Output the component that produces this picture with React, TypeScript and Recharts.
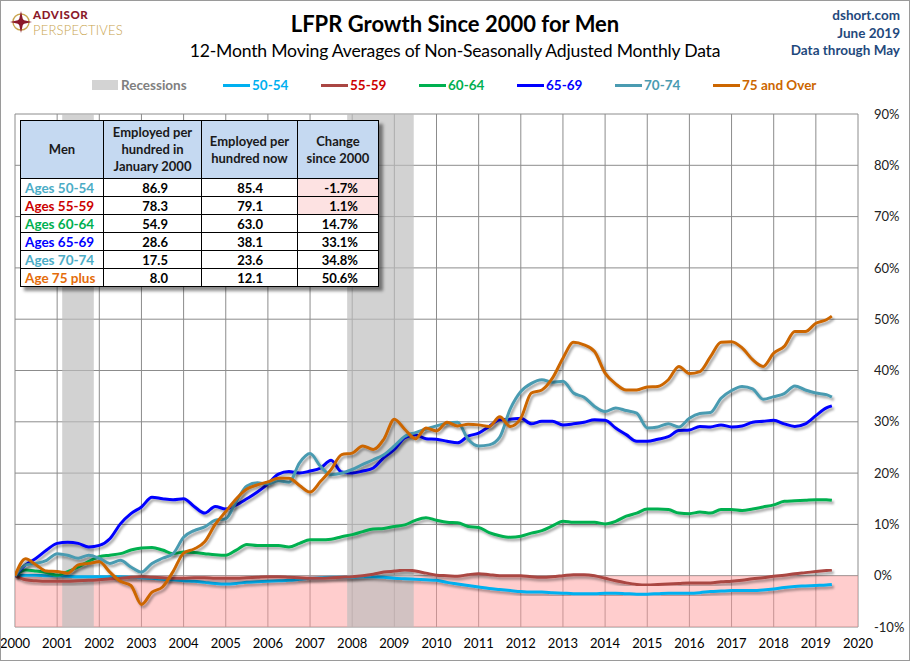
import React from 'react';
import { LineChart, Line, XAxis, YAxis, CartesianGrid, ReferenceArea } from 'recharts';

const quarters = [
  2000, 2000.25, 2000.5, 2000.75, 2001, 2001.25, 2001.5, 2001.75,
  2002, 2002.25, 2002.5, 2002.75, 2003, 2003.25, 2003.5, 2003.75,
  2004, 2004.25, 2004.5, 2004.75, 2005, 2005.25, 2005.5, 2005.75,
  2006, 2006.25, 2006.5, 2006.75, 2007, 2007.25, 2007.5, 2007.75,
  2008, 2008.25, 2008.5, 2008.75, 2009, 2009.25, 2009.5, 2009.75,
  2010, 2010.25, 2010.5, 2010.75, 2011, 2011.25, 2011.5, 2011.75,
  2012, 2012.25, 2012.5, 2012.75, 2013, 2013.25, 2013.5, 2013.75,
  2014, 2014.25, 2014.5, 2014.75, 2015, 2015.25, 2015.5, 2015.75,
  2016, 2016.25, 2016.5, 2016.75, 2017, 2017.25, 2017.5, 2017.75,
  2018, 2018.25, 2018.5, 2018.75, 2019, 2019.25, 2019.38,
];

const ages5054 = [
  0, 0.1, 0.1, 0.0, 0.0, -0.1, -0.2, -0.2,
  -0.2, -0.2, -0.2, -0.3, -0.4, -0.5, -0.7, -0.8,
  -1.0, -1.1, -1.3, -1.5, -1.6, -1.5, -1.3, -1.2,
  -1.1, -1.0, -0.9, -0.7, -0.5, -0.4, -0.3, -0.3,
  -0.3, -0.2, -0.2, -0.3, -0.5, -0.6, -0.7, -0.8,
  -0.9, -1.3, -1.6, -1.9, -2.2, -2.5, -2.7, -2.9,
  -3.1, -3.2, -3.2, -3.3, -3.4, -3.5, -3.5, -3.5,
  -3.4, -3.4, -3.5, -3.6, -3.6, -3.5, -3.4, -3.4,
  -3.4, -3.3, -3.1, -3.0, -2.9, -2.9, -2.9, -2.8,
  -2.6, -2.3, -2.1, -2.0, -1.9, -1.8, -1.7,
];

const ages5559 = [
  0, -0.8, -1.0, -1.1, -1.1, -1.1, -1.0, -0.9,
  -0.8, -0.6, -0.5, -0.3, -0.2, -0.3, -0.4, -0.5,
  -0.5, -0.4, -0.4, -0.5, -0.5, -0.5, -0.4, -0.3,
  -0.2, -0.2, -0.3, -0.4, -0.5, -0.5, -0.4, -0.3,
  -0.2, 0.0, 0.3, 0.7, 0.9, 1.1, 0.9, 0.5,
  0.1, 0.0, -0.1, 0.2, 0.4, 0.2, 0.0, 0.0,
  0.0, -0.2, -0.3, -0.2, 0.0, 0.2, 0.2, 0.0,
  -0.5, -1.0, -1.4, -1.7, -1.8, -1.7, -1.6, -1.5,
  -1.4, -1.4, -1.4, -1.2, -1.1, -0.9, -0.6, -0.4,
  -0.1, 0.1, 0.4, 0.6, 0.8, 1.0, 1.1,
];

const ages6064 = [
  0, 1.1, 0.9, 0.6, 0.1, 0.8, 1.7, 2.8,
  3.7, 4.0, 4.3, 5.0, 5.4, 5.5, 5.0, 4.3,
  4.6, 4.5, 4.3, 4.1, 4.0, 5.0, 6.1, 5.9,
  5.9, 5.9, 5.6, 6.3, 7.0, 7.0, 7.1, 7.6,
  8.0, 8.6, 9.1, 9.2, 9.6, 9.9, 10.8, 11.3,
  10.8, 10.4, 10.3, 9.6, 9.4, 8.4, 7.8, 7.5,
  7.7, 8.3, 8.8, 9.7, 10.6, 10.4, 10.4, 10.4,
  10.1, 10.6, 11.6, 12.2, 13.0, 13.0, 12.9, 12.2,
  12.1, 12.4, 12.2, 12.9, 12.9, 12.7, 13.0, 13.4,
  13.8, 14.5, 14.6, 14.7, 14.8, 14.8, 14.7,
];

const ages6569 = [
  0, 2.1, 3.4, 5.0, 6.3, 6.5, 6.3, 5.6,
  5.9, 7.2, 10.1, 12.1, 13.4, 15.3, 15.0, 14.8,
  15.0, 13.5, 12.2, 13.5, 13.0, 13.8, 15.0, 16.3,
  17.9, 19.8, 20.3, 20.0, 20.4, 21.0, 22.5, 20.2,
  20.0, 20.4, 21.0, 23.0, 24.6, 26.9, 27.5, 26.7,
  26.6, 26.2, 25.9, 27.2, 27.8, 29.1, 30.4, 30.5,
  30.7, 29.6, 30.1, 30.1, 29.4, 29.6, 29.9, 30.4,
  30.3, 28.8, 27.5, 26.2, 26.2, 26.6, 27.1, 28.3,
  28.4, 29.1, 29.0, 29.4, 29.0, 29.2, 29.9, 30.1,
  30.3, 29.6, 29.1, 29.6, 31.2, 32.7, 33.1,
];

const ages7074 = [
  0, 2.1, 2.4, 3.0, 4.3, 4.0, 3.4, 4.0,
  3.4, 2.4, 3.0, 1.7, 0.7, 2.4, 3.4, 4.3,
  7.5, 8.8, 9.5, 10.8, 11.1, 14.5, 17.5, 18.1,
  17.9, 18.5, 18.2, 22.0, 23.8, 21.3, 19.7, 20.0,
  20.7, 21.7, 22.6, 23.6, 25.3, 27.2, 27.9, 28.6,
  29.2, 29.7, 29.9, 26.6, 25.3, 25.5, 27.0, 32.5,
  35.9, 37.5, 38.2, 37.7, 37.9, 35.6, 34.8, 33.0,
  32.0, 32.7, 32.2, 31.7, 28.8, 29.0, 29.6, 29.0,
  30.7, 31.6, 31.8, 34.6, 36.1, 36.9, 36.4, 34.4,
  34.9, 35.5, 37.0, 36.2, 35.6, 35.3, 34.8,
];

const ages75plus = [
  0, 3.3, 2.1, 0.9, 0.8, 0.5, 2.1, 2.4,
  2.7, 0.7, -1.1, -1.9, -5.6, -3.2, -2.2, 0.8,
  4.4, 5.2, 6.6, 10.0, 12.5, 15.0, 16.9, 17.7,
  18.3, 19.0, 19.0, 17.6, 16.3, 18.4, 20.7, 23.6,
  23.9, 25.3, 24.6, 26.6, 30.5, 28.5, 26.7, 28.8,
  28.2, 29.9, 29.2, 29.5, 29.4, 29.1, 31.0, 29.1,
  30.7, 35.6, 36.2, 38.5, 42.4, 45.5, 45.0, 43.7,
  39.5, 37.4, 36.2, 36.2, 36.8, 36.9, 38.2, 40.8,
  39.4, 39.8, 42.7, 45.5, 45.6, 44.4, 42.1, 40.8,
  43.4, 44.7, 47.6, 47.6, 49.2, 49.9, 50.6,
];

const yearTicks = [
  2000, 2001, 2002, 2003, 2004, 2005, 2006, 2007, 2008, 2009, 2010,
  2011, 2012, 2013, 2014, 2015, 2016, 2017, 2018, 2019, 2020,
];
const pctTicks = [-10, 0, 10, 20, 30, 40, 50, 60, 70, 80, 90];

const recessionStarts = [2001.12, 2007.88];
const recessionEnds = [2001.87, 2009.46];

const seriesKeys = ['a5054', 'a5559', 'a6064', 'a6569', 'a7074', 'a75'];
const seriesNames = ['50-54', '55-59', '60-64', '65-69', '70-74', '75 and Over'];
const seriesColors = ['#00B0F0', '#AA4643', '#00B050', '#0000FF', '#4A9BB1', '#CC6600'];
const legendTextColors = ['#00B0F0', '#CC0000', '#00B050', '#0000FF', '#4A9BB1', '#CC6600'];

const tableLabels = ['Ages 50-54', 'Ages 55-59', 'Ages 60-64', 'Ages 65-69', 'Ages 70-74', 'Age 75 plus'];
const tableLabelColors = ['#4BACC6', '#CC0000', '#00B050', '#0000FF', '#4BACC6', '#E46C0A'];
const tableJan2000 = ['86.9', '78.3', '54.9', '28.6', '17.5', '8.0'];
const tableNow = ['85.4', '79.1', '63.0', '38.1', '23.6', '12.1'];
const tableChange = ['-1.7%', '1.1%', '14.7%', '33.1%', '34.8%', '50.6%'];

const allSeries = [ages5054, ages5559, ages6064, ages6569, ages7074, ages75plus];
const chartData = quarters.map((t, i) => {
  const row: Record<string, number> = { t };
  seriesKeys.forEach((k, j) => {
    row[k] = allSeries[j][i];
  });
  return row;
});

const FONT = 'Lato, "Noto Sans", sans-serif';

function Logo() {
  return (
    <div style={{ position: 'absolute', left: 10, top: 9 }}>
      <svg width="22" height="22" viewBox="0 0 22 22" style={{ position: 'absolute', left: 0, top: 2 }}>
        <circle cx="11" cy="11" r="8" fill="none" stroke="#C9A54F" strokeWidth="1.4" />
        <polygon points="11,0 13,9 22,11 13,13 11,22 9,13 0,11 9,9" fill="#8B1A2B" />
        <circle cx="11" cy="11" r="3.2" fill="#8B1A2B" />
      </svg>
      <div style={{ position: 'absolute', left: 23, top: 0, fontFamily: FONT, fontWeight: 900, fontSize: 11.5, color: '#8B1A2B', lineHeight: '12px', height: 12, letterSpacing: 0.6, whiteSpace: 'nowrap' }}>ADVISOR</div>
      <div style={{ position: 'absolute', left: 23, top: 14.6, fontFamily: FONT, fontWeight: 300, fontSize: 13, color: '#C9A54F', lineHeight: '13px', height: 13, letterSpacing: 0.2, whiteSpace: 'nowrap' }}>PERSPECTIVES</div>
    </div>
  );
}

function Header() {
  return (
    <>
      <div style={{ position: 'absolute', left: 0, width: 910, top: 10, textAlign: 'center', fontFamily: FONT, fontWeight: 700, fontSize: 22, color: '#000', lineHeight: '28px', letterSpacing: 0 }}>
        LFPR Growth Since 2000 for Men
      </div>
      <div style={{ position: 'absolute', left: 0, width: 910, top: 40, textAlign: 'center', fontFamily: FONT, fontWeight: 400, fontSize: 17.6, color: '#000', lineHeight: '22px', letterSpacing: -0.2 }}>
        12-Month Moving Averages of Non-Seasonally Adjusted Monthly Data
      </div>
      {['dshort.com', 'June 2019', 'Data through May'].map((s, i) => (
        <div key={s} style={{ position: 'absolute', right: 10, top: 6 + i * 17.5, textAlign: 'right', fontFamily: FONT, fontWeight: 700, fontSize: 13.5, color: '#1F497D', lineHeight: '18px', whiteSpace: 'nowrap' }}>
          {s}
        </div>
      ))}
    </>
  );
}

function LegendRow() {
  const starts = [223, 321, 419, 517, 615, 713];
  return (
    <div style={{ position: 'absolute', left: 0, top: 76, width: 910, height: 18, fontFamily: FONT, fontWeight: 700, fontSize: 13.5 }}>
      <div style={{ position: 'absolute', left: 92, top: 4, width: 26, height: 10, background: '#D3D3D3' }} />
      <div style={{ position: 'absolute', left: 121, top: 0, color: '#808080', lineHeight: '18px' }}>Recessions</div>
      {seriesNames.map((n, i) => (
        <React.Fragment key={n}>
          <div style={{ position: 'absolute', left: starts[i], top: 8, width: 27, height: 3, background: seriesColors[i] }} />
          <div style={{ position: 'absolute', left: starts[i] + 29, top: 0, color: legendTextColors[i], lineHeight: '18px', whiteSpace: 'nowrap' }}>{n}</div>
        </React.Fragment>
      ))}
    </div>
  );
}

function DataTable() {
  const border = '1px solid #000';
  const colW = [83, 98, 96, 81];
  const headStyle: React.CSSProperties = {
    border, background: '#C5D9F1', fontWeight: 700, fontSize: 13, textAlign: 'center', verticalAlign: 'middle',
    color: '#1a1a1a', lineHeight: '17px', padding: 0,
  };
  const cell: React.CSSProperties = { border, fontWeight: 700, fontSize: 13, padding: 0, height: 17, lineHeight: '16px', color: '#000' };
  return (
    <table style={{
      position: 'absolute', left: 20, top: 120, width: 358, borderCollapse: 'collapse', tableLayout: 'fixed',
      fontFamily: FONT, background: '#fff', border: '1.5px solid #000', boxShadow: '4px 4px 3px rgba(0,0,0,0.45)',
    }}>
      <colgroup>
        {colW.map((w, i) => <col key={i} style={{ width: w }} />)}
      </colgroup>
      <tbody>
        <tr style={{ height: 58 }}>
          <td style={headStyle}>Men</td>
          <td style={headStyle}>Employed per<br />hundred in<br />January 2000</td>
          <td style={headStyle}>Employed per<br />hundred now</td>
          <td style={headStyle}>Change<br />since 2000</td>
        </tr>
        {tableLabels.map((lab, i) => (
          <tr key={lab}>
            <td style={{ ...cell, color: tableLabelColors[i], fontSize: 13.5, paddingLeft: 4, whiteSpace: 'nowrap' }}>{lab}</td>
            <td style={{ ...cell, textAlign: 'right', paddingRight: 33 }}>{tableJan2000[i]}</td>
            <td style={{ ...cell, textAlign: 'right', paddingRight: 34 }}>{tableNow[i]}</td>
            <td style={{ ...cell, textAlign: 'right', paddingRight: 20, background: i < 2 ? '#FDE2E2' : '#fff' }}>{tableChange[i]}</td>
          </tr>
        ))}
      </tbody>
    </table>
  );
}

export default function App() {
  return (
    <div style={{ position: 'absolute', left: 0, top: 0, width: 910, height: 661, background: '#fff', overflow: 'hidden' }}>
      <svg width="0" height="0" style={{ position: 'absolute' }}>
        <defs>
          <filter id="lineShadow" x="-5%" y="-5%" width="110%" height="110%">
            <feDropShadow dx="2" dy="2.5" stdDeviation="1.3" floodColor="#000" floodOpacity="0.35" />
          </filter>
        </defs>
      </svg>
      <div style={{ position: 'absolute', left: 0, top: 0 }}>
        <LineChart width={910} height={661} data={chartData} margin={{ top: 114, right: 0, bottom: 0, left: 15 }}>
          <ReferenceArea x1={2000} x2={2020} y1={-10} y2={0} fill="#FF9C9C" fillOpacity={0.5} stroke="none" ifOverflow="hidden" />
          {recessionStarts.map((s, i) => (
            <ReferenceArea key={s} x1={s} x2={recessionEnds[i]} y1={-10} y2={90} fill="#BDBDBD" fillOpacity={0.68} stroke="none" ifOverflow="hidden" />
          ))}
          <CartesianGrid stroke="#8C8C8C" strokeWidth={1} />
          <XAxis
            dataKey="t" type="number" domain={[2000, 2020]} ticks={yearTicks} interval={0}
            height={34} tickLine={false} axisLine={false} tickMargin={6}
            tick={{ fill: '#000', fontSize: 13, fontFamily: FONT }}
            allowDataOverflow
          />
          <YAxis
            orientation="right" type="number" domain={[-10, 90]} ticks={pctTicks} interval={0}
            width={52} tickLine={false} axisLine={false} tickMargin={10}
            tick={{ fill: '#222', fontSize: 13, fontFamily: FONT, textAnchor: 'start' }}
            tickFormatter={(v: number) => `${v}%`}
            allowDataOverflow
          />
          {seriesKeys.map((k, i) => (
            <Line
              key={k} dataKey={k} name={seriesNames[i]} type="monotone" stroke={seriesColors[i]}
              strokeWidth={3} dot={false} activeDot={false} isAnimationActive={false}
              filter="url(#lineShadow)" strokeLinejoin="round"
            />
          ))}
        </LineChart>
      </div>
      <Logo />
      <Header />
      <LegendRow />
      <DataTable />
      <div style={{ position: 'absolute', left: 0, top: 0, width: 910, height: 661, boxSizing: 'border-box', border: '1px solid #9a9a9a', pointerEvents: 'none' }} />
    </div>
  );
}
